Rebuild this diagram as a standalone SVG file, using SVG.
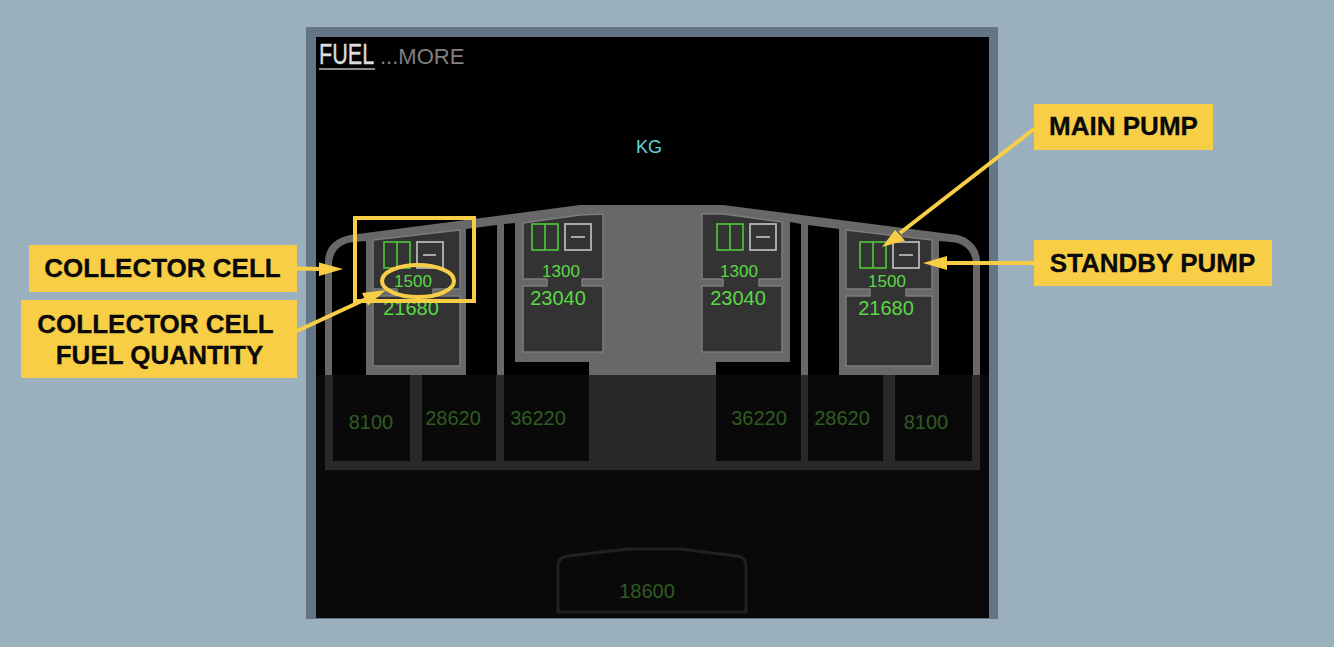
<svg xmlns="http://www.w3.org/2000/svg" width="1334" height="647" viewBox="0 0 1334 647">
<style>
text{font-family:"Liberation Sans",Arial,sans-serif}
.void{fill:#000}
.lowvoid{fill:#090909}
.cell{fill:#333;stroke:#7c7c7c;stroke-width:1.5;stroke-linejoin:round}
.main{fill:none;stroke:#4fc83a;stroke-width:1.6}
.stby{fill:none;stroke:#b5b5b5;stroke-width:1.8}
.dash{stroke:#b5b5b5;stroke-width:1.8}
.qs{fill:#5ad844;font-size:17px;text-anchor:middle}
.ql{fill:#5ad844;font-size:20px;text-anchor:middle}
.dim{fill:#2f5c22;font-size:20px;text-anchor:middle}
.box{fill:#f9ce47}
.lbl{fill:#0a0a0a;stroke:#0a0a0a;stroke-width:.3;font-size:26px;font-weight:bold;text-anchor:middle}
.ln{fill:none;stroke:#f9ce47;stroke-width:4}
.hd{fill:#f9ce47}
</style>
<rect width="1334" height="647" fill="#9ab0bd"/>
<g id="display">
<rect x="306" y="27" width="692" height="592" fill="#647585"/>
<rect x="316" y="37" width="673" height="581" fill="#000"/>
<rect x="316" y="375" width="673" height="243" fill="#090909"/>
</g>
<g id="title">
<text transform="translate(319,63.500) scale(0.72,1)" font-size="30" fill="#dcdcdc" stroke="#dcdcdc" stroke-width=".4">FUEL</text>
<rect x="319" y="68" width="56" height="2" fill="#8a8a8a"/>
<text x="380" y="63.500" font-size="22" fill="#808080">...MORE</text>
<text x="649" y="153" font-size="18" fill="#5fd6da" text-anchor="middle">KG</text>
</g>
<g id="wing-body">
<path d="M325,375 L325,262 C325,247 335,238 350,235 L580,205 L723,205 L958,235 C970,238 980,248 980,262 L980,375 Z" fill="#686868"/>
<path class="void" d="M332,375 L332,265 C332,252 340,243 354,242 L366,241 L366,375 Z"/>
<path class="void" d="M466,375 L466,229 L497,225 L497,375 Z"/>
<path class="void" d="M504,375 L504,224 L515,223 L515,362 L589,362 L589,375 Z"/>
<path class="void" d="M716,375 L716,362 L790,362 L790,222 L801,224 L801,375 Z"/>
<path class="void" d="M808,225 L839,229 L839,375 L808,375 Z"/>
<path class="void" d="M939,241 L951,242 C965,243 973,252 973,265 L973,375 L939,375 Z"/>
<rect x="325" y="375" width="655" height="95" fill="#292929"/>
</g>
<g id="tank-left-inner">
<path class="cell" d="M373,240 L460,230 L460,289 L433,289 L433,296 L460,296 L460,366 L373,366 L373,296 L397,296 L397,289 L373,289 Z"/>
<rect class="main" x="384" y="242" width="26" height="26"/><path class="main" d="M397,242V268"/>
<rect class="stby" x="417" y="242" width="26" height="26"/><path class="dash" d="M423,255H436"/>
<text class="qs" x="413" y="287">1500</text>
<text class="ql" x="411" y="315">21680</text>
</g>
<g id="tank-mid-left">
<path class="cell" d="M523,223 L580,215 L603,214 L603,279 L582,279 L582,286 L603,286 L603,352 L523,352 L523,286 L547,286 L547,279 L523,279 Z"/>
<rect class="main" x="532" y="224" width="26" height="26"/><path class="main" d="M545,224V250"/>
<rect class="stby" x="565" y="224" width="26" height="26"/><path class="dash" d="M571,237H585"/>
<text class="qs" x="561" y="277">1300</text>
<text class="ql" x="558" y="305">23040</text>
</g>
<g id="tank-mid-right">
<path class="cell" d="M702,214 L723,214 L782,222 L782,279 L759,279 L759,286 L782,286 L782,352 L702,352 L702,286 L723,286 L723,279 L702,279 Z"/>
<rect class="main" x="717" y="224" width="26" height="26"/><path class="main" d="M730,224V250"/>
<rect class="stby" x="750" y="224" width="26" height="26"/><path class="dash" d="M756,237H770"/>
<text class="qs" x="739" y="277">1300</text>
<text class="ql" x="738" y="305">23040</text>
</g>
<g id="tank-right-inner">
<path class="cell" d="M846,230 L932,240 L932,289 L906,289 L906,296 L932,296 L932,366 L846,366 L846,296 L870,296 L870,289 L846,289 Z"/>
<rect class="main" x="860" y="242" width="26" height="26"/><path class="main" d="M873,242V268"/>
<rect class="stby" x="893" y="242" width="26" height="26"/><path class="dash" d="M899,255H913"/>
<text class="qs" x="887" y="287">1500</text>
<text class="ql" x="886" y="315">21680</text>
</g>
<g id="tanks-outer">
<rect class="lowvoid" x="333" y="375" width="77" height="86"/>
<rect class="lowvoid" x="422" y="375" width="74" height="86"/>
<rect class="lowvoid" x="504" y="375" width="85" height="86"/>
<rect class="lowvoid" x="716" y="375" width="85" height="86"/>
<rect class="lowvoid" x="808" y="375" width="75" height="86"/>
<rect class="lowvoid" x="895" y="375" width="77" height="86"/>
<text class="dim" x="371" y="429">8100</text>
<text class="dim" x="453" y="425">28620</text>
<text class="dim" x="538" y="425">36220</text>
<text class="dim" x="759" y="425">36220</text>
<text class="dim" x="842" y="425">28620</text>
<text class="dim" x="926" y="429">8100</text>
</g>
<g id="trim-tank">
<path d="M558,612 L558,566 Q558,557 568,556 L628,549 L680,549 L737,556 Q746,557 746,566 L746,612 Z" fill="none" stroke="#212121" stroke-width="3"/>
<text class="dim" x="647" y="598">18600</text>
</g>
<g id="connectors">
<rect class="ln" x="355" y="218" width="119" height="83"/>
<ellipse class="ln" cx="418" cy="281" rx="36" ry="16" stroke-width="4.500"/>
<path class="ln" d="M297,268.500 L322,269"/><path class="hd" d="M343,269 L319,262.500 L319,276 Z"/>
<path class="ln" d="M297,331 L366,299"/><path class="hd" d="M386,290 L362,293 L368,305.500 Z"/>
<path class="ln" d="M1034,129 L900,233"/><path class="hd" d="M882,247 L895,230 L905,240.500 Z"/>
<path class="ln" d="M1034,263 L945,263"/><path class="hd" d="M923,263 L947,256 L947,270 Z"/>
</g>
<g id="label-collector-cell"><rect class="box" x="29" y="245" width="268" height="47"/><text class="lbl" x="162.500" y="277">COLLECTOR CELL</text></g>
<g id="label-collector-qty"><rect class="box" x="21" y="300" width="276" height="78"/><text class="lbl" x="155.500" y="333">COLLECTOR CELL</text><text class="lbl" x="159.500" y="364">FUEL QUANTITY</text></g>
<g id="label-main-pump"><rect class="box" x="1034" y="104" width="179" height="46"/><text class="lbl" x="1123.500" y="135">MAIN PUMP</text></g>
<g id="label-standby-pump"><rect class="box" x="1034" y="240" width="238" height="46"/><text class="lbl" x="1152.500" y="272">STANDBY PUMP</text></g>
</svg>
